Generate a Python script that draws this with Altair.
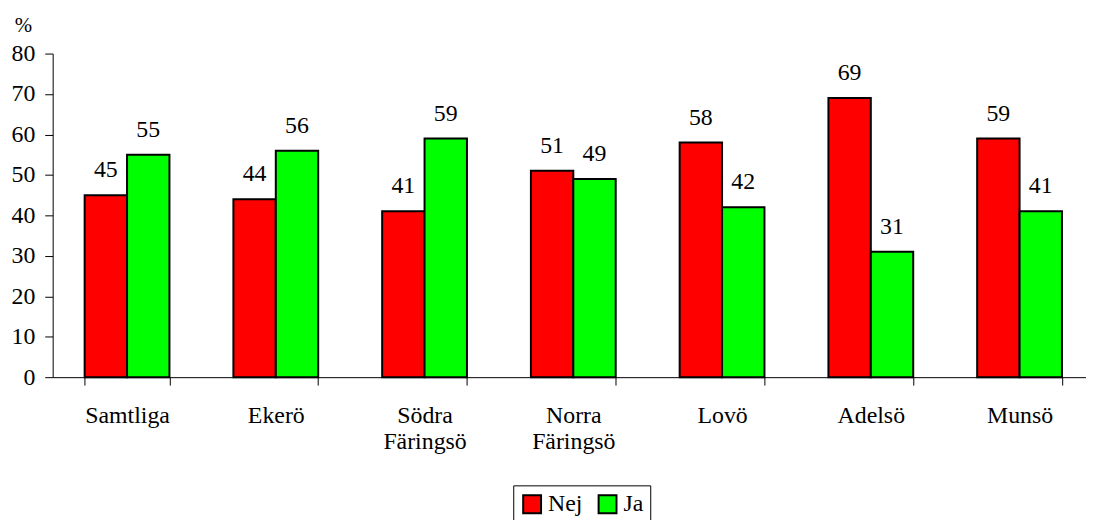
import altair as alt
import pandas as pd

categories = ["Samtliga", "Ekerö", "Södra\nFäringsö", "Norra\nFäringsö", "Lovö", "Adelsö", "Munsö"]
series = ["Nej", "Ja"]
nej = [45, 44, 41, 51, 58, 69, 59]
ja = [55, 56, 59, 49, 42, 31, 41]
colors = ["#FF0000", "#00FF00"]
y_ticks = [0, 10, 20, 30, 40, 50, 60, 70, 80]

rows = []
for c, a, b in zip(categories, nej, ja):
    rows.append({"kategori": c, "svar": "Nej", "varde": a})
    rows.append({"kategori": c, "svar": "Ja", "varde": b})
df = pd.DataFrame(rows)

FONT = "Liberation Serif, Times New Roman, serif"

x = alt.X(
    "kategori:N",
    sort=categories,
    scale=alt.Scale(range=[0, 1049], paddingInner=0.43, paddingOuter=0.215),
    axis=alt.Axis(
        title=None,
        labelAngle=0,
        tickBand="extent",
        tickSize=8,
        labelPadding=19,
        labelLineHeight=26,
        labelExpr="split(datum.label, '\\n')",
    ),
)
xo = alt.XOffset("svar:N", sort=series, scale=alt.Scale(paddingInner=0, paddingOuter=0))
y = alt.Y(
    "varde:Q",
    scale=alt.Scale(domain=[0, 80], nice=False),
    axis=alt.Axis(
        values=y_ticks,
        grid=False,
        title="%",
        titleAngle=0,
        titleX=-30,
        titleY=-22,
        titleAlign="center",
        titleBaseline="alphabetic",
        titleFontSize=21,
        titleFontWeight="normal",
        tickSize=8,
        labelPadding=10,
    ),
)

bars = alt.Chart(df).mark_bar(stroke="black", strokeWidth=2).encode(
    x=x,
    xOffset=xo,
    y=y,
    color=alt.Color(
        "svar:N",
        sort=series,
        scale=alt.Scale(domain=series, range=colors),
        legend=alt.Legend(
            title=None,
            orient="none",
            legendX=464,
            legendY=435,
            direction="horizontal",
            strokeColor="black",
            fillColor="white",
            padding=7,
            symbolType="square",
            symbolSize=324,
            symbolStrokeColor="black",
            symbolStrokeWidth=2,
            labelOffset=4,
            columnPadding=12,
        ),
    ),
)

labels = alt.Chart(df).mark_text(
    fontSize=24, color="black", baseline="alphabetic", dy=-18
).encode(
    x=alt.X("kategori:N", sort=categories),
    xOffset=xo,
    y=alt.Y("varde:Q"),
    text=alt.Text("varde:Q"),
)

chart = (
    alt.layer(bars, labels)
    .properties(
        width=1041,
        height=326,
        autosize=alt.AutoSizeParams(type="none"),
        padding={"left": 45, "top": 44, "right": 0, "bottom": 142},
    )
    .configure(font=FONT)
    .configure_axis(
        labelFont=FONT,
        labelFontSize=24,
        labelColor="black",
        titleFont=FONT,
        titleColor="black",
        domainColor="black",
        tickColor="black",
    )
    .configure_legend(labelFont=FONT, labelFontSize=24, labelColor="black")
    .configure_text(font=FONT)
    .configure_view(stroke=None)
)

chart.save("out.html", embed_options={"renderer": "svg", "actions": False})
